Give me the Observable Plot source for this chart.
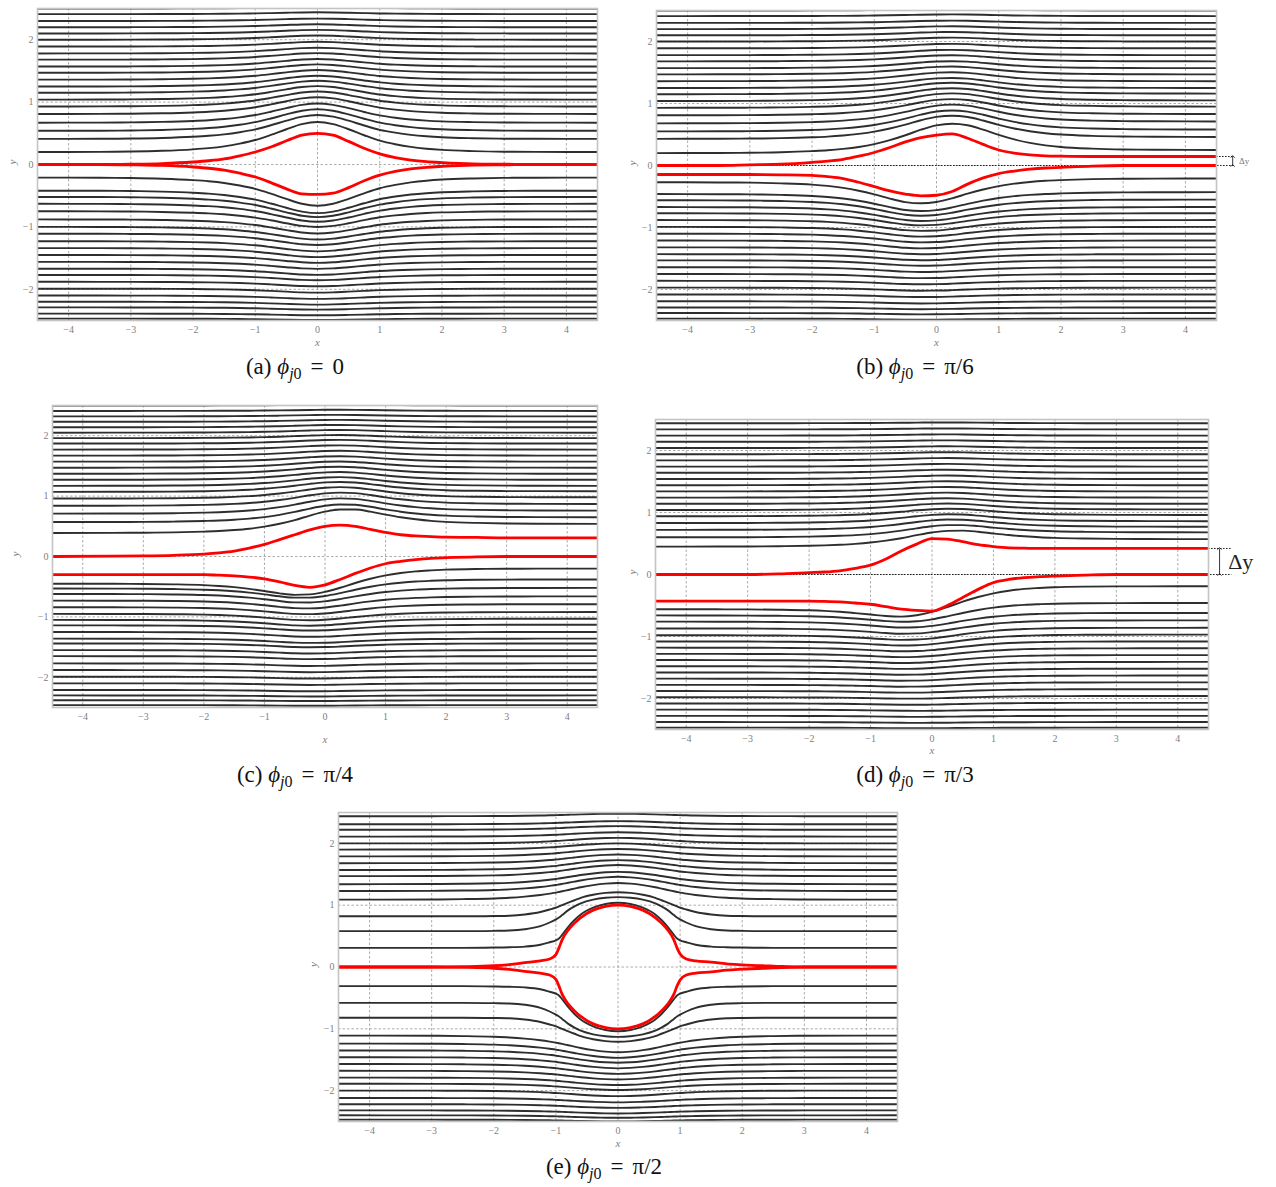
<!DOCTYPE html>
<html><head><meta charset="utf-8">
<script src="https://cdn.jsdelivr.net/npm/d3@7"></script>
<script src="https://cdn.jsdelivr.net/npm/@observablehq/plot@0.6"></script>
<style>
html,body{margin:0;padding:0;background:#fff}
body{width:1276px;height:1187px;position:relative;overflow:hidden}
svg{position:absolute}
.cap{position:absolute;font-family:"Liberation Serif","DejaVu Serif",serif;font-size:23px;color:#111;transform:translateX(-50%);white-space:nowrap;line-height:24px}
.cap i{font-style:italic}
.cap sub{font-size:16px;vertical-align:-5px;line-height:0}
.cap .eq{margin:0 9px}
</style></head><body>
<script>
// ---------- shared sampling grid and ticks ----------
const xs = [-4.5,-3.5,-3,-2.5,-2,-1.75,-1.5,-1.25,-1,-0.75,-0.5,-0.25,0,0.25,0.5,0.75,1,1.25,1.5,1.75,2,2.5,3,3.5,4.5];
const xTicks = [-4,-3,-2,-1,0,1,2,3,4];
const yTicks = [-2,-1,0,1,2];

// transition (upstream -> downstream shift) and bump shapes read from the streamlines
const shiftProfile = [0,0,0,0,0,0,0,0,0.01,0.03,0.08,0.17,0.3,0.45,0.6,0.73,0.83,0.9,0.95,0.97,0.99,1,1,1,1];
const bumpSym     = [0,0.005,0.015,0.04,0.09,0.13,0.19,0.28,0.4,0.57,0.76,0.93,1,0.93,0.76,0.56,0.38,0.26,0.17,0.11,0.07,0.03,0.01,0.005,0];
const bumpUpSkew  = [0,0.005,0.012,0.03,0.07,0.1,0.15,0.22,0.32,0.46,0.63,0.82,0.96,1,0.93,0.76,0.56,0.39,0.26,0.17,0.11,0.05,0.02,0.01,0];
const bumpLoSkew  = [0,0.01,0.02,0.05,0.11,0.17,0.26,0.39,0.56,0.76,0.93,1,0.96,0.82,0.63,0.46,0.32,0.22,0.15,0.1,0.07,0.03,0.012,0.005,0];
// relative deflection of the n-th streamline away from the body
const ampNorm = [1,0.8,0.72,0.64,0.56,0.5,0.45,0.4,0.36,0.32,0.28,0.25,0.22,0.19,0.16,0.14,0.12,0.1,0.08,0.06,0.05,0.04];
// peak deflection of the first streamline, panels a..d
const peakUp = [0.48,0.45,0.32,0.2];
const peakLo = [0.45,0.35,0.22,0.16];

// ---------- (a) phi = 0 ----------
const redUpA = [0,0,0.005,0.015,0.04,0.06,0.09,0.14,0.2,0.28,0.38,0.47,0.5,0.47,0.37,0.26,0.17,0.11,0.07,0.045,0.03,0.01,0.005,0,0];
const redLoA = [0,0,-0.005,-0.015,-0.04,-0.06,-0.09,-0.14,-0.2,-0.29,-0.39,-0.47,-0.48,-0.46,-0.37,-0.26,-0.17,-0.11,-0.07,-0.045,-0.03,-0.01,-0.005,0,0];
const levelsUpA = [0.2,0.41,0.54,0.67,0.81,0.93,1.04,1.15,1.25,1.36,1.47,1.57,1.68,1.78,1.89,2.0,2.1,2.2,2.3,2.41,2.5];
const levelsLoA = [-0.21,-0.42,-0.52,-0.63,-0.75,-0.88,-1.0,-1.11,-1.23,-1.34,-1.45,-1.56,-1.67,-1.77,-1.88,-1.99,-2.1,-2.2,-2.29,-2.39,-2.47];

// ---------- (b) phi = pi/6 ----------
const redUpB = [0,0,0.01,0.02,0.05,0.07,0.1,0.15,0.21,0.29,0.38,0.45,0.49,0.51,0.44,0.34,0.25,0.2,0.17,0.155,0.15,0.145,0.145,0.145,0.145];
const redLoB = [-0.145,-0.145,-0.145,-0.15,-0.16,-0.18,-0.21,-0.27,-0.34,-0.41,-0.46,-0.49,-0.48,-0.42,-0.3,-0.2,-0.13,-0.09,-0.06,-0.04,-0.03,-0.01,0,0,0];
const levelsUpB = [0.2,0.43,0.55,0.68,0.81,0.93,1.04,1.15,1.25,1.36,1.47,1.57,1.68,1.78,1.89,2.0,2.1,2.2,2.3,2.41,2.5];
const shiftUpB  = [0.05,0.03,0.03,0.03,0.02,0.02,0.01,0.01,0,0,0,0,0,0,0,0,0,0,0,0,0];
const levelsLoB = [-0.27,-0.46,-0.56,-0.67,-0.77,-0.88,-0.99,-1.1,-1.21,-1.32,-1.43,-1.53,-1.64,-1.75,-1.86,-1.97,-2.08,-2.19,-2.29,-2.38,-2.47];
const shiftLoB  = [0.06,0.03,0.01,0,0,0,0,0,0,0,0,0,0,0,0,0,0,0,0,0,0];

// ---------- (c) phi = pi/4 ----------
const redUpC = [0,0.005,0.01,0.02,0.04,0.06,0.09,0.14,0.2,0.28,0.36,0.44,0.5,0.52,0.5,0.45,0.4,0.36,0.34,0.33,0.32,0.315,0.31,0.31,0.31];
const redLoC = [-0.3,-0.3,-0.3,-0.3,-0.3,-0.31,-0.32,-0.34,-0.37,-0.42,-0.48,-0.51,-0.47,-0.38,-0.28,-0.19,-0.12,-0.08,-0.05,-0.03,-0.02,-0.005,0,0,0];
const levelsUpC = [0.39,0.57,0.71,0.84,0.96,1.07,1.17,1.27,1.37,1.47,1.57,1.67,1.77,1.87,1.96,2.05,2.14,2.23,2.32,2.41,2.5];
const shiftUpC  = [0.15,0.08,0.05,0.03,0.02,0.01,0,0,0,0,0,0,0,0,0,0,0,0,0,0,0];
const levelsLoC = [-0.45,-0.53,-0.62,-0.73,-0.84,-0.95,-1.05,-1.14,-1.25,-1.36,-1.44,-1.55,-1.65,-1.77,-1.88,-1.99,-2.1,-2.21,-2.3,-2.38,-2.46];
const shiftLoC  = [0.25,0.15,0.1,0.07,0.05,0.03,0.02,0.01,0,0,0,0,0,0,0,0,0,0,0,0,0];

// ---------- (d) phi = pi/3 ----------
const redUpD = [0,0,0,0.01,0.03,0.04,0.06,0.1,0.15,0.25,0.38,0.49,0.58,0.57,0.53,0.48,0.45,0.43,0.425,0.42,0.42,0.42,0.42,0.42,0.42];
const redLoD = [-0.43,-0.43,-0.43,-0.43,-0.43,-0.435,-0.44,-0.46,-0.48,-0.52,-0.56,-0.58,-0.59,-0.5,-0.37,-0.24,-0.13,-0.08,-0.05,-0.035,-0.025,-0.01,0,0,0];
const levelsUpD = [0.45,0.6,0.72,0.83,0.94,1.04,1.14,1.24,1.34,1.44,1.54,1.64,1.74,1.84,1.94,2.04,2.14,2.24,2.34,2.44];
const shiftUpD  = [0.12,0.08,0.05,0.03,0.02,0.01,0,0,0,0,0,0,0,0,0,0,0,0,0,0];
const levelsLoD = [-0.56,-0.66,-0.76,-0.87,-0.98,-1.08,-1.18,-1.28,-1.38,-1.48,-1.58,-1.68,-1.78,-1.88,-1.98,-2.08,-2.18,-2.28,-2.38,-2.47];
const shiftLoD  = [0.37,0.2,0.14,0.13,0.12,0.11,0.1,0.09,0.08,0.07,0.06,0.05,0.04,0.03,0.02,0.01,0,0,0,0];

// ---------- (e) phi = pi/2 (circular body) ----------
const xsE = [-4.5,-3,-2.5,-2,-1.75,-1.5,-1.25,-1.1,-1,-0.95,-0.9,-0.8,-0.7,-0.6,-0.4,-0.2,0,0.2,0.4,0.6,0.7,0.8,0.9,0.95,1,1.1,1.25,1.5,1.75,2,2.5,3,4.5];
const redUpE = [0,0,0.005,0.02,0.04,0.07,0.1,0.13,0.2,0.31,0.44,0.6,0.71,0.8,0.92,0.98,1.0,0.98,0.92,0.8,0.71,0.6,0.44,0.31,0.21,0.13,0.1,0.08,0.05,0.035,0.015,0,0];
const redLoE = [0,0,-0.005,-0.02,-0.04,-0.07,-0.1,-0.13,-0.2,-0.31,-0.44,-0.6,-0.71,-0.8,-0.92,-0.98,-1.0,-0.98,-0.92,-0.8,-0.71,-0.6,-0.44,-0.31,-0.21,-0.13,-0.1,-0.08,-0.05,-0.035,-0.015,0,0];
const nearE1 = [0.31,0.31,0.31,0.315,0.32,0.33,0.36,0.4,0.43,0.46,0.52,0.65,0.76,0.85,0.96,1.02,1.04,1.02,0.96,0.85,0.76,0.65,0.52,0.46,0.43,0.4,0.36,0.33,0.32,0.315,0.31,0.31,0.31];
const nearE2 = [0.58,0.58,0.58,0.585,0.59,0.61,0.66,0.72,0.77,0.8,0.84,0.92,0.98,1.03,1.09,1.12,1.13,1.12,1.09,1.03,0.98,0.92,0.84,0.8,0.77,0.72,0.66,0.61,0.59,0.585,0.58,0.58,0.58];
const nearE3 = [0.82,0.82,0.82,0.825,0.83,0.85,0.89,0.93,0.96,0.98,1.0,1.04,1.08,1.12,1.17,1.2,1.21,1.2,1.17,1.12,1.08,1.04,1.0,0.98,0.96,0.93,0.89,0.85,0.83,0.825,0.82,0.82,0.82];
const bumpE = [0,0.01,0.03,0.07,0.11,0.18,0.28,0.36,0.42,0.46,0.5,0.58,0.66,0.74,0.87,0.96,1,0.96,0.87,0.74,0.66,0.58,0.5,0.46,0.42,0.36,0.28,0.18,0.11,0.07,0.03,0.01,0];
const levelsUpE = [1.09,1.23,1.34,1.47,1.57,1.68,1.79,1.9,2.0,2.11,2.22,2.31,2.44];
const levelsLoE = [-1.11,-1.24,-1.35,-1.46,-1.57,-1.68,-1.79,-1.89,-2.0,-2.12,-2.22,-2.32,-2.4,-2.47];
const ampE = [0.27,0.23,0.2,0.18,0.16,0.14,0.12,0.1,0.09,0.07,0.06,0.05,0.04,0.03];

// ---------- helpers (build rows from the arrays above) ----------
function curveRows(gx, ys, id){ return gx.map((x,k)=>({id, x, y: ys[k]})); }
function blackRows(levels, shifts, peak, bump, sign, tag){
  return levels.flatMap((y0,i)=>xs.map((x,k)=>({id: tag+i, x,
    y: y0 + (shifts ? shifts[i]*shiftProfile[k] : 0) + sign*peak*(ampNorm[i] ?? 0)*bump[k]})));
}
function blackRowsE(levels, sign, tag){
  return levels.flatMap((y0,i)=>xsE.map((x,k)=>({id: tag+i, x, y: y0 + sign*(ampE[i] ?? 0)*bumpE[k]})));
}
const fmt = d => d < 0 ? "\u2212" + (-d) : String(d);

function makePanel(cfg){
  const ml = 50, mr = 70, mt = 6, mb = 45;
  const fw = cfg.right - cfg.left, fh = cfg.bottom - cfg.top;
  const marks = [
    Plot.gridX(xTicks, {stroke:"#8c8c8c", strokeOpacity:0.9, strokeDasharray:"2.5,2", strokeWidth:0.8}),
    Plot.gridY(yTicks, {stroke:"#8c8c8c", strokeOpacity:0.9, strokeDasharray:"2.5,2", strokeWidth:0.8}),
    Plot.line(cfg.black, {x:"x", y:"y", z:"id", stroke:"#111", strokeWidth:1.9, strokeOpacity:0.88, curve:"monotone-x", clip:true}),
    ...(cfg.extra || []),
    Plot.line(cfg.red, {x:"x", y:"y", z:"id", stroke:"#ff0000", strokeWidth:2.8, curve:"monotone-x", clip:true}),
    Plot.frame({stroke:"#c4c4c4", strokeWidth:1.6}),
    Plot.axisX(xTicks, {tickSize:0, tickPadding:5, fontSize:10, fill:"#808080", label:null, tickFormat:fmt}),
    Plot.axisY(yTicks, {tickSize:0, tickPadding:4, fontSize:10, fill:"#808080", label:null, tickFormat:fmt}),
    Plot.text([0], {x:d=>d, text:()=>"x", frameAnchor:"bottom", dy:cfg.xdy, fontSize:11, fontStyle:"italic", fill:"#808080"}),
    Plot.text([0], {y:d=>d, text:()=>"y", frameAnchor:"left", dx:cfg.ydx, rotate:-90, fontSize:11, fontStyle:"italic", fill:"#808080"})
  ];
  const svg = Plot.plot({
    width: fw+ml+mr, height: fh+mt+mb,
    marginLeft: ml, marginRight: mr, marginTop: mt, marginBottom: mb,
    x: {domain:[-4.5,4.5]}, y: {domain:[-2.5,2.5]},
    style: {background:"transparent", fontFamily:"'Liberation Serif','DejaVu Serif',serif", overflow:"visible"},
    marks
  });
  svg.style.left = (cfg.left - ml) + "px";
  svg.style.top = (cfg.top - mt) + "px";
  document.body.appendChild(svg);
}

function deltaMarks(dy, xArrow, xEnd, xText, fontSize, color){
  return [
    Plot.ruleY([0], {x1:-4.5, x2:xEnd, stroke:"#222", strokeDasharray:"1.6,1.4", strokeWidth:1}),
    Plot.ruleY([dy], {x1:4.5, x2:xEnd, stroke:"#222", strokeDasharray:"1.6,1.4", strokeWidth:1}),
    Plot.link([dy], {x1:xArrow, x2:xArrow, y1:0, y2:d=>d, stroke:"#222", strokeWidth:0.9, markerStart:"arrow", markerEnd:"arrow"}),
    Plot.text([dy], {x:xText, y:d=>d/2, text:()=>"\u0394y", textAnchor:"start", fontSize, fill:color})
  ];
}

// (a)
makePanel({left:37, top:8, right:597, bottom:320, xdy:25, ydx:-25,
  black:[...blackRows(levelsUpA,null,peakUp[0],bumpSym,1,"u"), ...blackRows(levelsLoA,null,peakLo[0],bumpSym,-1,"l")],
  red:[...curveRows(xs,redUpA,"ru"), ...curveRows(xs,redLoA,"rl")]});
// (b)
makePanel({left:656, top:10, right:1216, bottom:320, xdy:25, ydx:-24,
  black:[...blackRows(levelsUpB,shiftUpB,peakUp[1],bumpUpSkew,1,"u"), ...blackRows(levelsLoB,shiftLoB,peakLo[1],bumpLoSkew,-1,"l")],
  red:[...curveRows(xs,redUpB,"ru"), ...curveRows(xs,redLoB,"rl")],
  extra: deltaMarks(redUpB[redUpB.length-1], 4.76, 4.78, 4.86, 9, "#777")});
// (c)
makePanel({left:52, top:405, right:597, bottom:707, xdy:35, ydx:-37,
  black:[...blackRows(levelsUpC,shiftUpC,peakUp[2],bumpUpSkew,1,"u"), ...blackRows(levelsLoC,shiftLoC,peakLo[2],bumpLoSkew,-1,"l")],
  red:[...curveRows(xs,redUpC,"ru"), ...curveRows(xs,redLoC,"rl")]});
// (d)
makePanel({left:655, top:419, right:1208, bottom:729, xdy:24, ydx:-23,
  black:[...blackRows(levelsUpD,shiftUpD,peakUp[3],bumpUpSkew,1,"u"), ...blackRows(levelsLoD,shiftLoD,peakLo[3],bumpLoSkew,-1,"l")],
  red:[...curveRows(xs,redUpD,"ru"), ...curveRows(xs,redLoD,"rl")],
  extra: deltaMarks(redUpD[redUpD.length-1], 4.68, 4.88, 4.82, 22, "#222")});
// (e)
makePanel({left:338, top:812, right:897, bottom:1121, xdy:25, ydx:-25,
  black:[
    ...curveRows(xsE,nearE1,"n1"), ...curveRows(xsE,nearE2,"n2"), ...curveRows(xsE,nearE3,"n3"),
    ...curveRows(xsE,nearE1.map(v=>-v),"m1"), ...curveRows(xsE,nearE2.map(v=>-v),"m2"), ...curveRows(xsE,nearE3.map(v=>-v),"m3"),
    ...blackRowsE(levelsUpE,1,"u"), ...blackRowsE(levelsLoE,-1,"l")],
  red:[...curveRows(xsE,redUpE,"ru"), ...curveRows(xsE,redLoE,"rl")]});

// captions
const caps = [
  ["a","0",295,355],["b","\u03c0/6",915,355],["c","\u03c0/4",295,763],["d","\u03c0/3",915,763],["e","\u03c0/2",604,1155]
];
for (const [l, v, cx, ty] of caps){
  const d = document.createElement("div");
  d.className = "cap";
  d.style.left = cx + "px"; d.style.top = ty + "px";
  d.innerHTML = `(${l}) <i>\u03d5</i><sub><i>j</i>0</sub><span class="eq">=</span>${v}`;
  document.body.appendChild(d);
}
</script>
</body></html>
